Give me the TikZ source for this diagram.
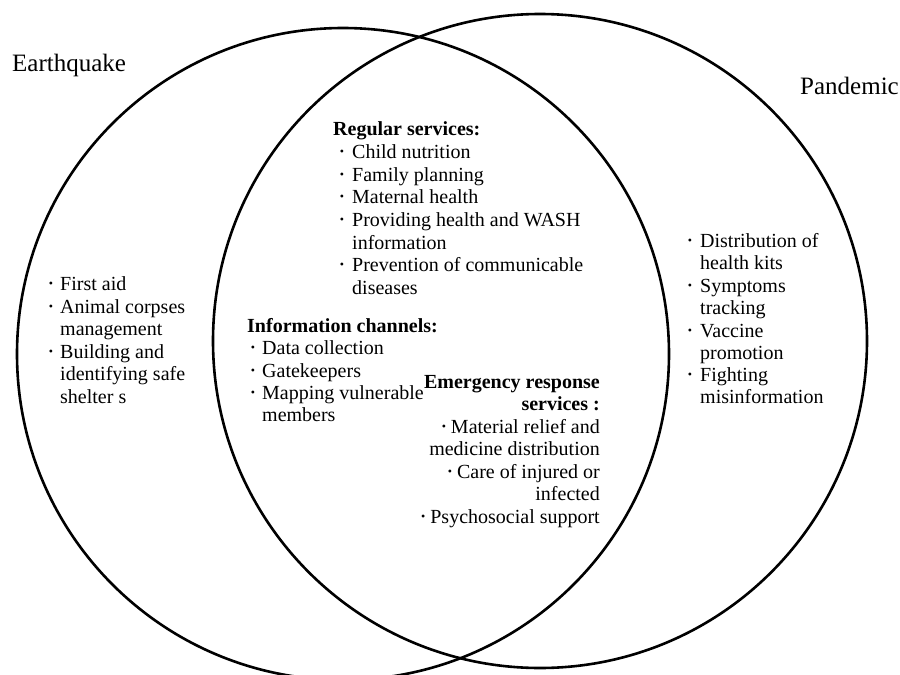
\documentclass[tikz,border=0pt]{standalone}
\usepackage{fontspec}
\setmainfont{Liberation Serif}
\newcommand\bulmark{\raisebox{2.2pt}{\fontsize{12}{12}\selectfont\textbullet}}
\tikzset{
  ring/.style={draw=black, line width=2.6pt},
  ttl/.style={font=\fontsize{25}{28}\selectfont, inner sep=0pt, anchor=base west},
  hd/.style={font=\bfseries\fontsize{20}{22}\selectfont, inner sep=0pt, anchor=base west},
  tx/.style={font=\fontsize{20}{22}\selectfont, inner sep=0pt, anchor=base west},
  txr/.style={tx, anchor=base east},
  hdr/.style={hd, anchor=base east},
  bl/.style={font=\fontsize{20}{22}\selectfont, inner sep=0pt, anchor=base},
}
\begin{document}
\begin{tikzpicture}[x=1pt,y=-1pt]
\useasboundingbox (0,0) rectangle (900,675);
\clip (0,0) rectangle (900,675);
% circles
\draw[ring] (343,354) circle [radius=326pt];
\draw[ring] (540,341) circle [radius=327pt];
% titles
\node[ttl] (eq) at (12,71) {Earthquake};
\node[ttl, anchor=base east] (pd) at (899,94) {Pandemic};
% regular services
\node[hd] (rs) at (333,135) {Regular services:};
\node[bl] (rsb1) at (342,158) {\bulmark}; \node[tx] (rs1) at (352,158) {Child nutrition};
\node[bl] (rsb2) at (342,181) {\bulmark}; \node[tx] (rs2) at (352,181) {Family planning};
\node[bl] (rsb3) at (342,203) {\bulmark}; \node[tx] (rs3) at (352,203) {Maternal health};
\node[bl] (rsb4) at (342,226) {\bulmark}; \node[tx] (rs4) at (352,226) {Providing health and WASH};
\node[tx] (rs4b) at (352,249) {information};
\node[bl] (rsb5) at (342,271) {\bulmark}; \node[tx] (rs5) at (352,271) {Prevention of communicable};
\node[tx] (rs5b) at (352,294) {diseases};
% information channels
\node[hd] (ic) at (247,332) {Information channels:};
\node[bl] (icb1) at (253,354) {\bulmark}; \node[tx] (ic1) at (262,354) {Data collection};
\node[bl] (icb2) at (253,377) {\bulmark}; \node[tx] (ic2) at (262,377) {Gatekeepers};
\node[bl] (icb3) at (253,399) {\bulmark}; \node[tx] (ic3) at (262,399) {Mapping vulnerable};
\node[tx] (ic3b) at (262,421) {members};
% emergency response
\node[hdr] (er) at (600,388) {Emergency response};
\node[hdr] (er2) at (600,410) {services :};
\node[txr] (er3) at (600,433) {\bulmark\hspace{5pt}Material relief and};
\node[txr] (er4) at (600,455) {medicine distribution};
\node[txr] (er5) at (600,478) {\bulmark\hspace{5pt}Care of injured or};
\node[txr] (er6) at (600,500) {infected};
\node[txr] (er7) at (600,523) {\bulmark\hspace{5pt}Psychosocial support};
% earthquake only
\node[bl] (eb1) at (51,290) {\bulmark}; \node[tx] (e1) at (60,290) {First aid};
\node[bl] (eb2) at (51,313) {\bulmark}; \node[tx] (e2) at (60,313) {Animal corpses};
\node[tx] (e2b) at (60,335) {management};
\node[bl] (eb3) at (51,358) {\bulmark}; \node[tx] (e3) at (60,358) {Building and};
\node[tx] (e3b) at (60,380) {identifying safe};
\node[tx] (e3c) at (60,403) {shelter s};
% pandemic only
\node[bl] (pb1) at (690,247) {\bulmark}; \node[tx] (p1) at (700,247) {Distribution of};
\node[tx] (p1b) at (700,269) {health kits};
\node[bl] (pb2) at (690,292) {\bulmark}; \node[tx] (p2) at (700,292) {Symptoms};
\node[tx] (p2b) at (700,314) {tracking};
\node[bl] (pb3) at (690,337) {\bulmark}; \node[tx] (p3) at (700,337) {Vaccine};
\node[tx] (p3b) at (700,359) {promotion};
\node[bl] (pb4) at (690,381) {\bulmark}; \node[tx] (p4) at (700,381) {Fighting};
\node[tx] (p4b) at (700,403) {misinformation};
\end{tikzpicture}
\end{document}
